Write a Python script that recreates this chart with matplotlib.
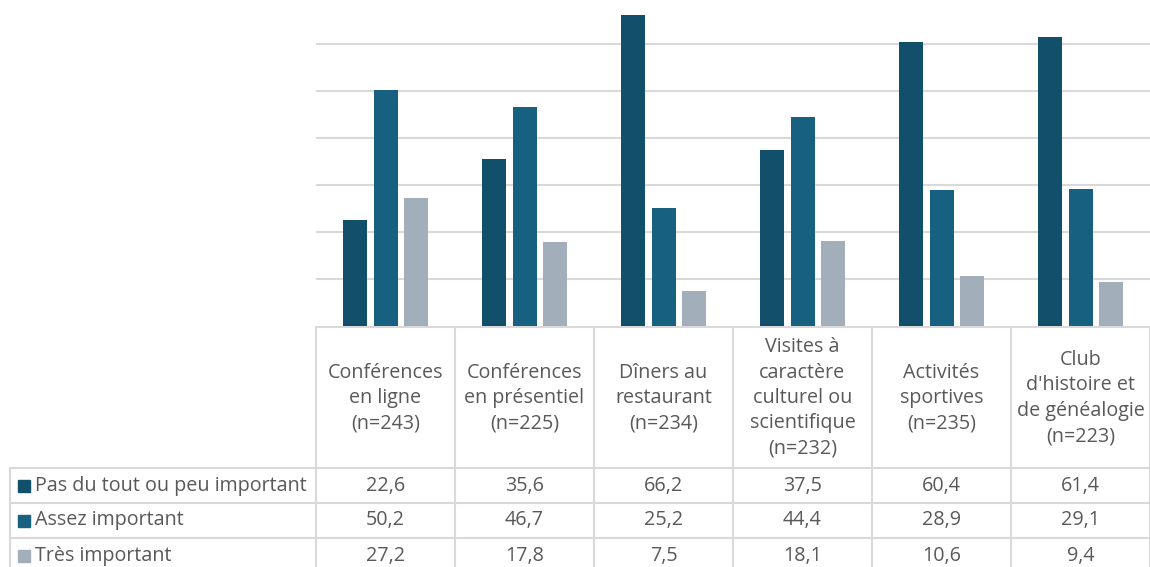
import matplotlib.pyplot as plt
import numpy as np

plt.rcParams['font.family'] = ['Open Sans', 'DejaVu Sans']

categories = [
    "Conférences\nen ligne\n(n=243)",
    "Conférences\nen présentiel\n(n=225)",
    "Dîners au\nrestaurant\n(n=234)",
    "Visites à\ncaractère\nculturel ou\nscientifique\n(n=232)",
    "Activités\nsportives\n(n=235)",
    "Club\nd'histoire et\nde généalogie\n(n=223)",
]
series_names = ["Pas du tout ou peu important", "Assez important", "Très important"]
pas_important = [22.6, 35.6, 66.2, 37.5, 60.4, 61.4]
assez_important = [50.2, 46.7, 25.2, 44.4, 28.9, 29.1]
tres_important = [27.2, 17.8, 7.5, 18.1, 10.6, 9.4]
series = [pas_important, assez_important, tres_important]
colors = ["#124f6b", "#17607f", "#a2afbb"]

W, H = 1150, 567
TEXT = "#595959"
LINE = "#d9d9d9"
FS = 14.2

fig = plt.figure(figsize=(W / 100, H / 100), dpi=100)

# pixel layout
x0, x1 = 316, 1150
base = 326
hdr_bot = 468
row_h = 35
lab_left = 10

# bar chart
ax = fig.add_axes([x0 / W, 1 - base / H, (x1 - x0) / W, base / H])
n = len(categories)
x = np.arange(n)
width = 24 / 139
step = 30.5 / 139
for i, (vals, c) in enumerate(zip(series, colors)):
    ax.bar(x + (i - 1) * step, vals, width, color=c, zorder=3)
ax.set_xlim(-0.5, n - 0.5)
ax.set_ylim(0, base / 4.7)
ax.set_yticks(np.arange(10, 70, 10))
ax.yaxis.grid(True, color=LINE, linewidth=1.5, zorder=0)
ax.tick_params(left=False, bottom=False, labelleft=False, labelbottom=False)
for s in ax.spines.values():
    s.set_visible(False)

# data table drawn in pixel coordinates
tab = fig.add_axes([0, 0, 1, 1], zorder=-1)
tab.set_xlim(0, W)
tab.set_ylim(H, 0)
tab.axis("off")

col_w = (x1 - x0) / n
lw = 1.5
tab.plot([x0, x1], [base + 1, base + 1], color=LINE, lw=lw)
for k in range(n + 1):
    xx = x0 + k * col_w
    tab.plot([xx, xx], [base + 1, H + 5], color=LINE, lw=lw)
tab.plot([lab_left, lab_left], [hdr_bot, H + 5], color=LINE, lw=lw)
for r in range(len(series) + 1):
    yy = hdr_bot + r * row_h
    tab.plot([lab_left, x1], [yy, yy], color=LINE, lw=lw)

for k, cat in enumerate(categories):
    tab.text(x0 + (k + 0.5) * col_w, (base + hdr_bot) / 2 + 1, cat,
             ha="center", va="center", fontsize=FS, color=TEXT, linespacing=1.36)

for r, (name, vals, c) in enumerate(zip(series_names, series, colors)):
    yc = hdr_bot + (r + 0.5) * row_h
    tab.add_patch(plt.Rectangle((18, yc - 6), 12, 12, color=c))
    tab.text(35, yc, name, ha="left", va="center", fontsize=FS, color=TEXT)
    for k, v in enumerate(vals):
        tab.text(x0 + (k + 0.5) * col_w, yc, f"{v:.1f}".replace(".", ","),
                 ha="center", va="center", fontsize=FS, color=TEXT)

fig.savefig("out.png", dpi=100)
